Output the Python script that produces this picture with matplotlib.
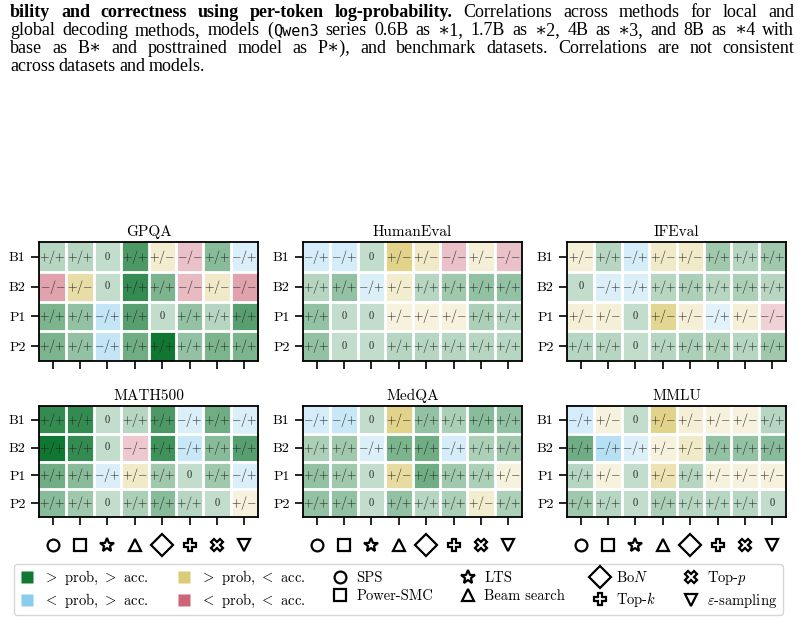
import numpy as np
import matplotlib
matplotlib.use("Agg")
import matplotlib.pyplot as plt
import matplotlib.colors as mcolors
from matplotlib.lines import Line2D
import matplotlib.transforms as mtransforms

plt.rcParams['font.family'] = 'serif'
plt.rcParams['font.serif'] = ['cmr10', 'DejaVu Serif']
plt.rcParams['mathtext.fontset'] = 'cm'
plt.rcParams['axes.unicode_minus'] = False
plt.rcParams['axes.formatter.use_mathtext'] = True

# ---- data -------------------------------------------------------------
datasets = ['GPQA', 'HumanEval', 'IFEval', 'MATH500', 'MedQA', 'MMLU']
models = ['B1', 'B2', 'P1', 'P2']
methods = ['SPS', 'Power-SMC', 'LTS', 'Beam search', 'BoN', 'Top-k', 'Top-p', 'eps-sampling']
method_labels = ['SPS', 'Power-SMC', 'LTS', 'Beam search', r'Bo$N$', r'Top-$k$', r'Top-$p$',
                 r'$\varepsilon$-sampling']
method_markers = ['o', 's', '*', '^', 'D', 'P', 'X', 'v']

# sign of (prob, acc) correlation per cell
gpqa_sign = [['+/+', '+/+', '0', '+/+', '+/-', '-/-', '+/+', '-/+'],
             ['-/-', '+/-', '0', '+/+', '+/+', '-/-', '+/-', '-/-'],
             ['+/+', '+/+', '-/+', '+/+', '0', '+/+', '+/+', '+/+'],
             ['+/+', '+/+', '-/+', '+/+', '+/+', '+/+', '+/+', '+/+']]
gpqa_mag = [[0.30, 0.30, 0, 0.75, 0.35, 0.40, 0.50, 0.30],
            [0.60, 0.65, 0, 0.85, 0.55, 0.45, 0.40, 0.60],
            [0.55, 0.45, 0.50, 0.70, 0, 0.45, 0.30, 0.70],
            [0.55, 0.45, 0.50, 0.60, 1.00, 0.45, 0.55, 0.55]]

humaneval_sign = [['-/+', '-/+', '0', '+/-', '+/-', '-/-', '+/-', '-/-'],
                  ['+/+', '+/+', '-/+', '+/-', '+/+', '+/+', '+/+', '+/+'],
                  ['+/+', '0', '0', '+/-', '+/-', '+/-', '+/+', '+/+'],
                  ['+/+', '0', '0', '+/+', '+/+', '+/+', '+/+', '+/+']]
humaneval_mag = [[0.35, 0.35, 0, 0.85, 0.40, 0.40, 0.30, 0.40],
                 [0.30, 0.45, 0.30, 0.35, 0.30, 0.40, 0.45, 0.45],
                 [0.45, 0, 0, 0.25, 0.25, 0.25, 0.35, 0.30],
                 [0.45, 0, 0, 0.30, 0.30, 0.30, 0.30, 0.30]]

ifeval_sign = [['+/-', '+/+', '-/+', '+/-', '+/-', '+/+', '+/+', '+/+'],
               ['0', '-/+', '-/+', '+/+', '+/+', '+/+', '+/+', '+/+'],
               ['+/-', '+/-', '0', '+/-', '+/-', '-/+', '+/-', '-/-'],
               ['+/+', '+/+', '0', '+/+', '+/+', '+/+', '+/+', '+/+']]
ifeval_mag = [[0.30, 0.30, 0.35, 0.40, 0.40, 0.40, 0.30, 0.40],
              [0, 0.30, 0.30, 0.30, 0.35, 0.30, 0.35, 0.30],
              [0.30, 0.30, 0, 0.80, 0.30, 0.25, 0.30, 0.30],
              [0.30, 0.30, 0, 0.30, 0.35, 0.35, 0.30, 0.40]]

math500_sign = [['+/+', '+/+', '0', '+/+', '+/+', '-/+', '+/+', '-/+'],
                ['+/+', '+/+', '0', '-/-', '+/+', '-/+', '+/+', '+/+'],
                ['+/+', '+/+', '-/+', '+/-', '+/+', '0', '+/+', '-/+'],
                ['+/+', '+/+', '0', '+/+', '+/+', '+/+', '0', '+/-']]
math500_mag = [[0.85, 0.85, 0, 0.30, 0.75, 0.30, 0.60, 0.30],
               [1.00, 0.85, 0, 0.35, 0.80, 0.45, 0.50, 0.70],
               [0.60, 0.50, 0.30, 0.40, 0.40, 0, 0.40, 0.30],
               [0.50, 0.40, 0, 0.35, 0.50, 0.30, 0, 0.25]]

medqa_sign = [['-/+', '-/+', '0', '+/-', '+/+', '+/+', '+/+', '+/+'],
              ['+/+', '+/+', '-/+', '+/+', '+/+', '-/+', '+/+', '+/+'],
              ['+/+', '+/+', '0', '+/-', '+/+', '+/+', '+/+', '+/-'],
              ['+/+', '+/+', '0', '+/+', '+/+', '+/+', '+/-', '+/+']]
medqa_mag = [[0.35, 0.45, 0, 0.85, 0.45, 0.35, 0.50, 0.45],
             [0.35, 0.40, 0.30, 0.55, 0.60, 0.35, 0.35, 0.40],
             [0.45, 0.40, 0, 0.70, 0.60, 0.40, 0.35, 0.25],
             [0.45, 0.45, 0, 0.45, 0.30, 0.35, 0.35, 0.35]]

mmlu_sign = [['-/+', '+/-', '0', '+/-', '+/-', '+/-', '+/-', '+/+'],
             ['+/+', '-/+', '-/+', '+/-', '+/-', '+/+', '+/+', '+/+'],
             ['+/+', '+/-', '0', '+/-', '+/+', '+/-', '+/-', '+/-'],
             ['+/+', '+/+', '0', '+/+', '+/+', '+/+', '+/+', '0']]
mmlu_mag = [[0.35, 0.25, 0, 0.85, 0.30, 0.25, 0.25, 0.30],
            [0.60, 0.60, 0.30, 0.25, 0.40, 0.45, 0.45, 0.50],
            [0.30, 0.25, 0, 0.55, 0.30, 0.25, 0.25, 0.25],
            [0.40, 0.30, 0, 0.35, 0.30, 0.30, 0.30, 0]]

signs = [gpqa_sign, humaneval_sign, ifeval_sign, math500_sign, medqa_sign, mmlu_sign]
mags = [gpqa_mag, humaneval_mag, ifeval_mag, math500_mag, medqa_mag, mmlu_mag]

# Paul Tol muted colours
cat_colors = {'+/+': '#117733', '+/-': '#DDCC77', '-/+': '#88CCEE', '-/-': '#CC6677', '0': '#117733'}
cat_text = {'+/+': r'$+$/$+$', '+/-': r'$+$/$-$', '-/+': r'$-$/$+$', '-/-': r'$-$/$-$', '0': '0'}
zero_alpha = 0.25


def cell_rgb(sign, mag):
    base = np.array(mcolors.to_rgb(cat_colors[sign]))
    a = zero_alpha if sign == '0' else mag
    return 1 - a * (1 - base)


fig = plt.figure(figsize=(8.05, 6.21), dpi=100)
W, H = 805, 621

# ---- caption text at top (part of the paper page) ---------------------
serif = ['Liberation Serif', 'DejaVu Serif']
mono = ['DejaVu Sans Mono']
B = dict(family=serif, weight='bold', size=13)
R = dict(family=serif, size=13)
M = dict(family=mono, size=11)

cap_lines = [
    [[("bility", B)], [("and", B)], [("correctness", B)], [("using", B)], [("per-token", B)],
     [("log-probability.", B)], [("Correlations", R)], [("across", R)], [("methods", R)],
     [("for", R)], [("local", R)], [("and", R)]],
    [[("global", R)], [("decoding", R)], [("methods,", R)], [("models", R)],
     [("(", R), ("Qwen3", M)], [("series", R)], [("0.6B", R)], [("as", R)], [("∗1,", R)],
     [("1.7B", R)], [("as", R)], [("∗2,", R)], [("4B", R)], [("as", R)], [("∗3,", R)],
     [("and", R)], [("8B", R)], [("as", R)], [("∗4", R)], [("with", R)]],
    [[("base", R)], [("as", R)], [("B∗", R)], [("and", R)], [("posttrained", R)], [("model", R)],
     [("as", R)], [("P∗),", R)], [("and", R)], [("benchmark", R)], [("datasets.", R)],
     [("Correlations", R)], [("are", R)], [("not", R)], [("consistent", R)]],
    [[("across", R)], [("datasets", R)], [("and", R)], [("models.", R)]],
]
baselines = [17, 35, 53, 71]
x_left, x_right = 10, 794

renderer = fig.canvas.get_renderer()
for li, (words, yb) in enumerate(zip(cap_lines, baselines)):
    items = []
    for word in words:
        segs = []
        for txt, props in word:
            t = fig.text(0, 1 - yb / H, txt, va='baseline', ha='left', **props)
            w = t.get_window_extent(renderer).width
            segs.append((t, w))
        items.append(segs)
    widths = [sum(w for _, w in segs) for segs in items]
    if li < 3:
        gap = (x_right - x_left - sum(widths)) / (len(items) - 1)
    else:
        gap = 3.5
    x = x_left
    for segs, wsum in zip(items, widths):
        xx = x
        for t, w in segs:
            t.set_x(xx / W)
            xx += w
        x += wsum + gap

# ---- heatmap panels ---------------------------------------------------
lefts = [39, 303, 567]
panel_w = 219
rows = [(242, 361), (406, 517)]

for k, name in enumerate(datasets):
    r, c = divmod(k, 3)
    top, bot = rows[r]
    ax = fig.add_axes([lefts[c] / W, 1 - bot / H, panel_w / W, (bot - top) / H])
    sg = signs[k]
    mg = mags[k]
    img = np.array([[cell_rgb(sg[i][j], mg[i][j]) for j in range(len(methods))]
                    for i in range(len(models))])
    ax.imshow(img, aspect='auto', interpolation='nearest')
    for i in range(len(models)):
        for j in range(len(methods)):
            s = sg[i][j]
            ax.text(j, i, cat_text[s], ha='center', va='center',
                    fontsize=7.5 if s == '0' else 8.8, color='#222222')
    # white cell separators
    for x in np.arange(0.5, len(methods) - 1, 1):
        ax.axvline(x, color='white', lw=2)
    for y in np.arange(0.5, len(models) - 1, 1):
        ax.axhline(y, color='white', lw=2)
    ax.set_title(name, fontsize=11, pad=4)
    ax.set_yticks(range(len(models)))
    ax.set_yticklabels(models, fontsize=10)
    ax.set_xticks(range(len(methods)))
    ax.set_xticklabels([])
    ax.tick_params(direction='out', length=6, width=1.2)
    for sp in ax.spines.values():
        sp.set_linewidth(1.3)
    if r == 1:
        trans = mtransforms.blended_transform_factory(ax.transData, ax.transAxes)
        for j, m in enumerate(method_markers):
            ms = 11 if m == 'D' else (10 if m == '*' else 8.5)
            ax.plot(j, -0.255, marker=m, ms=ms, mfc='white', mec='black', mew=1.6,
                    transform=trans, clip_on=False)

# ---- legend -------------------------------------------------------------
handles = [
    Line2D([], [], ls='none', marker='s', ms=8, mfc='#117733', mec='none'),
    Line2D([], [], ls='none', marker='s', ms=8, mfc='#88CCEE', mec='none'),
    Line2D([], [], ls='none', marker='s', ms=8, mfc='#DDCC77', mec='none'),
    Line2D([], [], ls='none', marker='s', ms=8, mfc='#CC6677', mec='none'),
]
labels = [r'$>$ prob, $>$ acc.', r'$<$ prob, $>$ acc.', r'$>$ prob, $<$ acc.', r'$<$ prob, $<$ acc.']
for m, lab in zip(method_markers, method_labels):
    ms = 11 if m == 'D' else (10 if m == '*' else 8.5)
    handles.append(Line2D([], [], ls='none', marker=m, ms=ms, mfc='white', mec='black', mew=1.6))
    labels.append(lab)

fig.legend(handles, labels, ncol=6, loc='center', bbox_to_anchor=(0.495, 1 - 589.5 / H),
           fontsize=10.5, frameon=True, fancybox=True, edgecolor='#cccccc',
           handletextpad=0.6, columnspacing=1.9, labelspacing=0.3, borderpad=0.35,
           handlelength=1.0)

fig.savefig('out.png', dpi=100)
